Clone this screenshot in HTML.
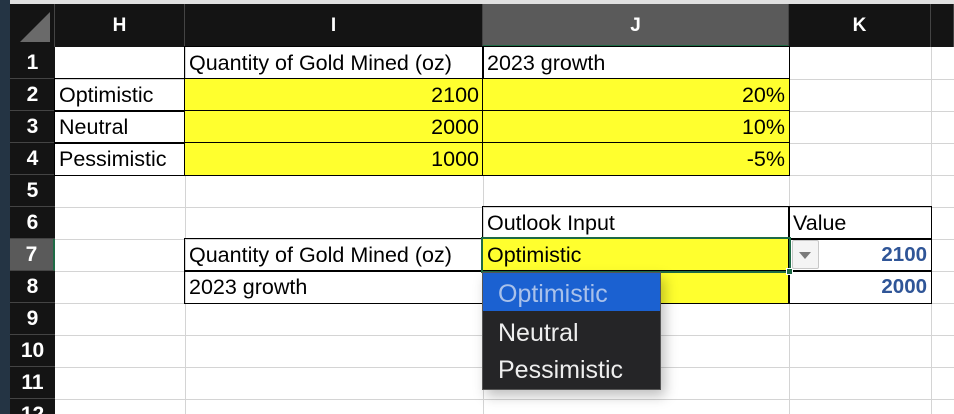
<!DOCTYPE html>
<html style="overflow:hidden;width:954px;height:414px"><head><meta charset="utf-8"><style>
html,body{margin:0;width:954px;height:414px;overflow:hidden;}
body{background:#fff;position:relative;font-family:"Liberation Sans",Arial,sans-serif;}
div{position:absolute;box-sizing:border-box;}
.hl{height:1px;background:#d4d4d4;left:55px;right:0}
.vl{width:1px;background:#d4d4d4;top:47px;height:367px}
.ch{top:4px;height:43px;background:#141414;color:#fff;font-weight:bold;font-size:19px;text-align:center;line-height:43px;border-right:1px solid #444}
.rh{left:10px;width:45px;height:32px;background:#141414;color:#fff;font-weight:bold;font-size:21px;text-align:center;line-height:32px;border-bottom:1px solid #444;overflow:hidden}
.c{font-size:21.5px;line-height:32px;height:33px;padding:0 4px;white-space:nowrap;color:#000;overflow:hidden}
.y{background:#ffff2e}
.b{border:1.5px solid #000}
.r{text-align:right}
.v{color:#2f5597;font-weight:bold;text-align:right;font-size:20.5px}
</style></head><body>
<div style="left:0;top:0;width:954px;height:4px;background:#e0e0e0"></div>
<div style="left:0;top:0;width:10px;height:414px;background:#243444"></div>
<div style="left:10px;top:4px;width:45px;height:43px;background:#141414;border-right:1px solid #444"><svg width="45" height="43"><polygon points="40,8 40,38 10,38" fill="#6a6a6a"/></svg></div>
<div class="ch" style="left:55px;width:130px">H</div>
<div class="ch" style="left:185px;width:298px">I</div>
<div class="ch" style="left:483px;width:306px;background:#5a5a5a;border-bottom:2px solid #1e6b45">J</div>
<div class="ch" style="left:789px;width:142px">K</div>
<div class="ch" style="left:931px;width:23px"></div>

<div class="rh" style="top:47px">1</div>
<div class="rh" style="top:79px">2</div>
<div class="rh" style="top:111px">3</div>
<div class="rh" style="top:143px">4</div>
<div class="rh" style="top:175px">5</div>
<div class="rh" style="top:207px">6</div>
<div class="rh" style="top:239px;background:#5a5a5a;border-right:2px solid #1e6b45">7</div>
<div class="rh" style="top:271px">8</div>
<div class="rh" style="top:303px">9</div>
<div class="rh" style="top:335px">10</div>
<div class="rh" style="top:367px">11</div>
<div class="rh" style="top:399px;height:15px;line-height:32px;border-bottom:none">12</div>

<div class="hl" style="top:79px"></div><div class="hl" style="top:111px"></div><div class="hl" style="top:143px"></div>
<div class="hl" style="top:175px"></div><div class="hl" style="top:207px"></div><div class="hl" style="top:239px"></div>
<div class="hl" style="top:271px"></div><div class="hl" style="top:303px"></div><div class="hl" style="top:335px"></div>
<div class="hl" style="top:367px"></div><div class="hl" style="top:399px"></div>
<div class="vl" style="left:185px"></div><div class="vl" style="left:483px"></div><div class="vl" style="left:789px"></div><div class="vl" style="left:931px"></div>

<div class="c b" style="left:184px;top:46px;width:300px;height:34px">Quantity of Gold Mined (oz)</div>
<div class="c b" style="left:482px;top:46px;width:308px;height:34px">2023 growth</div>
<div class="c b" style="left:54px;top:78px;width:131px;height:34px">Optimistic</div>
<div class="c b" style="left:54px;top:110px;width:131px;height:34px">Neutral</div>
<div class="c b" style="left:54px;top:142px;width:131px;height:34px">Pessimistic</div>
<div class="c b y r" style="left:184px;top:78px;width:300px;height:34px">2100</div>
<div class="c b y r" style="left:184px;top:110px;width:300px;height:34px">2000</div>
<div class="c b y r" style="left:184px;top:142px;width:300px;height:34px">1000</div>
<div class="c b y r" style="left:482px;top:78px;width:308px;height:34px">20%</div>
<div class="c b y r" style="left:482px;top:110px;width:308px;height:34px">10%</div>
<div class="c b y r" style="left:482px;top:142px;width:308px;height:34px">-5%</div>

<div class="c b" style="left:482px;top:206px;width:308px;height:34px">Outlook Input</div>
<div class="c b" style="left:788px;top:206px;width:144px;height:34px">Value</div>
<div class="c b" style="left:184px;top:238px;width:300px;height:34px">Quantity of Gold Mined (oz)</div>
<div class="c b" style="left:184px;top:270px;width:300px;height:34px">2023 growth</div>
<div class="c b y" style="left:482px;top:238px;width:308px;height:34px">Optimistic</div>
<div class="c b y" style="left:482px;top:270px;width:308px;height:34px"></div>
<div class="c b v" style="left:788px;top:238px;width:144px;height:34px">2100</div>
<div class="c b v" style="left:788px;top:270px;width:144px;height:34px">2000</div>
<div style="left:481px;top:237px;width:310px;height:36px;border:2.5px solid #1e6b45"></div>
<div style="left:786px;top:268px;width:7px;height:7px;background:#1e6b45;border:1px solid #fff"></div>
<div style="left:792px;top:240px;width:27px;height:29px;background:#f4f4f4;border:1px solid #c8c8c8;border-radius:2px"><svg width="25" height="27"><polygon points="6,11 18,11 12,18" fill="#7a7a7a"/></svg></div>

<div style="left:482px;top:272px;width:179px;height:118px;background:#252527;border:1px solid #555;box-shadow:4px 6px 12px rgba(0,0,0,0.25);font-size:25px">
<div style="left:0;top:0;width:177px;height:38px;background:#1b61d1;color:#a9c1ea;padding-left:15px;line-height:42px;white-space:nowrap">Optimistic</div>
<div style="left:0;top:42px;width:177px;height:36px;color:#eee;padding-left:15px;line-height:36px;white-space:nowrap">Neutral</div>
<div style="left:0;top:79px;width:177px;height:36px;color:#eee;padding-left:15px;line-height:36px;white-space:nowrap">Pessimistic</div>
</div>
</body></html>
